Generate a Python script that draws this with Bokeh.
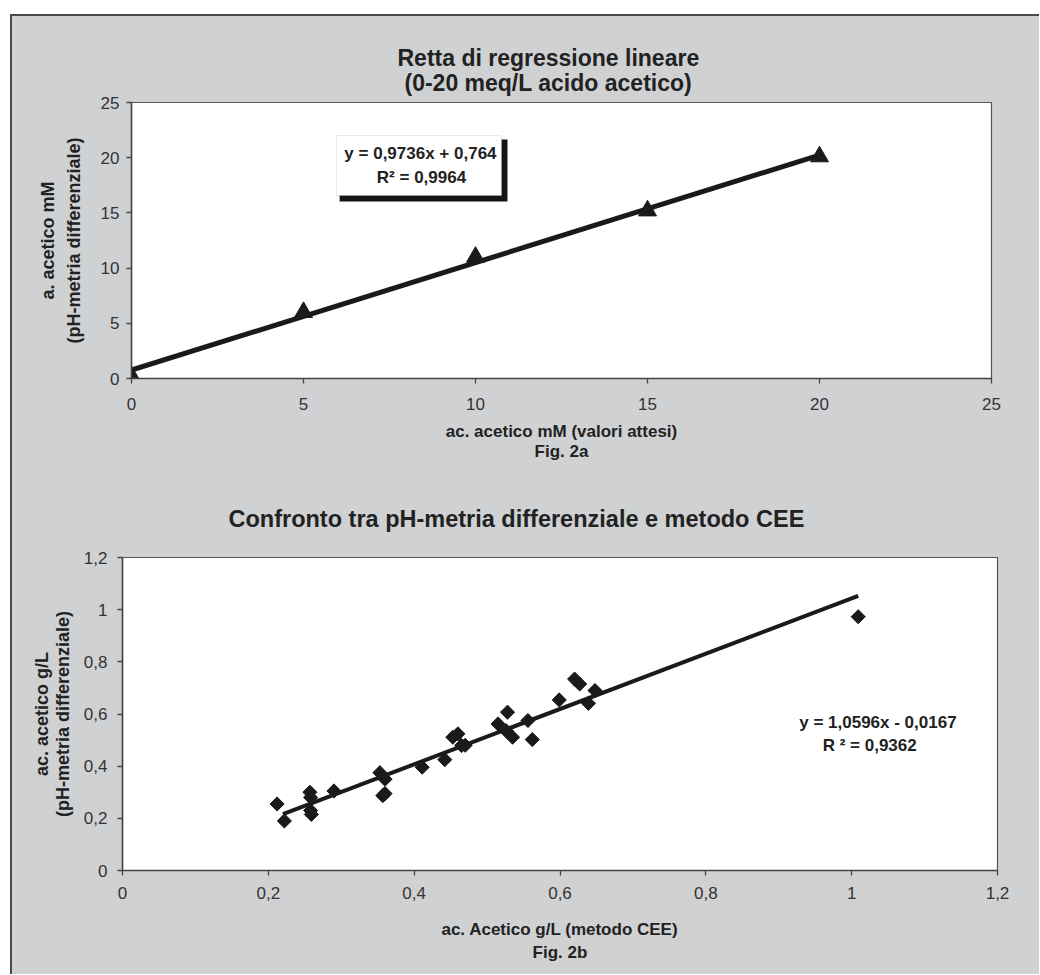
import numpy as np
from bokeh.plotting import figure
from bokeh.layouts import column
from bokeh.models import Range1d, FixedTicker, CustomJSTickFormatter, Label, BoxAnnotation, Title
from bokeh.embed import file_html
from bokeh.resources import INLINE

# ---------------- data: Fig. 2a ----------------
a_x = [0, 5, 10, 15, 20]
a_y = [0.2, 6.0, 11.0, 15.2, 20.1]
a_slope = 0.9736
a_intercept = 0.764
a_ticks = [0, 5, 10, 15, 20, 25]
a_title = ["Retta di regressione lineare", "(0-20 meq/L acido acetico)"]
a_xlabel = ["ac. acetico mM (valori attesi)", "Fig. 2a"]
a_ylabel = ["a. acetico mM", "(pH-metria differenziale)"]
a_eq = ["y = 0,9736x + 0,764", "R\u00b2 = 0,9964"]

# ---------------- data: Fig. 2b ----------------
b_x = [0.212, 0.222, 0.257, 0.258, 0.258, 0.259, 0.290, 0.353, 0.360, 0.357,
       0.360, 0.411, 0.442, 0.453, 0.460, 0.465, 0.470, 0.515, 0.528, 0.526,
       0.535, 0.556, 0.562, 0.599, 0.620, 0.627, 0.639, 0.648, 1.009]
b_y = [0.255, 0.190, 0.300, 0.280, 0.230, 0.215, 0.305, 0.375, 0.350, 0.287,
       0.295, 0.396, 0.425, 0.511, 0.524, 0.479, 0.480, 0.562, 0.607, 0.536,
       0.511, 0.575, 0.502, 0.654, 0.734, 0.715, 0.641, 0.690, 0.973]
b_slope = 1.0596
b_intercept = -0.0167
b_ticks = [0, 0.2, 0.4, 0.6, 0.8, 1.0, 1.2]
b_title = "Confronto tra pH-metria differenziale e metodo CEE"
b_xlabel = ["ac. Acetico g/L (metodo CEE)", "Fig. 2b"]
b_ylabel = ["ac. acetico g/L", "(pH-metria differenziale)"]
b_eq = ["y = 1,0596x - 0,0167", "R \u00b2  = 0,9362"]

GRAY = "#d0d1d3"
INK = "#1a1a1a"
TXT = "#222222"
FONT = "Liberation Sans"


def make_fig(fw, fh, left, top, right, bottom, xr, yr, ticks, xstand, ystand):
    p = figure(frame_width=fw, frame_height=fh,
               min_border_left=left, min_border_top=top,
               min_border_right=right, min_border_bottom=bottom,
               x_range=Range1d(*xr), y_range=Range1d(*yr),
               output_backend="svg", toolbar_location=None, title=None,
               background_fill_color="white", border_fill_color=GRAY,
               outline_line_color="#555555", outline_line_width=1.2)
    p.frame_align = False
    p.grid.visible = False
    fmt = CustomJSTickFormatter(code="return (Math.round(tick*10)/10).toString().replace('.', ',');")
    for ax, st in ((p.xaxis[0], xstand), (p.yaxis[0], ystand)):
        ax.ticker = FixedTicker(ticks=ticks)
        ax.formatter = fmt
        ax.axis_line_color = "#444444"
        ax.axis_line_width = 1.5
        ax.major_tick_line_color = "#444444"
        ax.major_tick_line_width = 1.3
        ax.major_tick_out = 5
        ax.major_tick_in = 0
        ax.minor_tick_out = 0
        ax.minor_tick_in = 0
        ax.major_label_text_font = FONT
        ax.major_label_text_font_size = "17px"
        ax.major_label_text_color = "#333333"
        ax.major_label_standoff = st
        ax.axis_label_text_font = FONT
        ax.axis_label_text_font_size = "17px"
        ax.axis_label_text_font_style = "bold"
        ax.axis_label_text_color = TXT
    return p


def side_text(p, side, text, size, standoff, align="center", offset=0):
    p.add_layout(Title(text=text, align=align, offset=offset, standoff=standoff,
                       text_font=FONT, text_font_size=size, text_font_style="bold",
                       text_color=TXT), side)


def lab(p, x, y, text, size):
    p.add_layout(Label(x=x, y=y, text=text, text_align="center", text_baseline="middle",
                       text_font=FONT, text_font_size=size, text_font_style="bold",
                       text_color=TXT))


# ---------------- Fig. 2a ----------------
p1 = make_fig(860, 276, 119, 86, 48, 92, (0, 25), (0, 25), a_ticks, 14, 7)
ax_line = np.array([min(a_x), max(a_x)], dtype=float)
p1.line(ax_line, a_slope * ax_line + a_intercept, line_color=INK, line_width=5)
p1.scatter(a_x, a_y, marker="triangle", size=18, fill_color=INK, line_color=INK)

p1.add_layout(BoxAnnotation(left=6.05, right=10.93, top=21.65, bottom=16.03,
                            fill_color="#151515", fill_alpha=1.0, line_color=None))
p1.add_layout(BoxAnnotation(left=5.96, right=10.756, top=22.01, bottom=16.58,
                            fill_color="white", fill_alpha=1.0,
                            line_color="#b8b8b8", line_width=1))
lab(p1, 8.40, 20.38, a_eq[0], "17px")
lab(p1, 8.43, 18.21, a_eq[1], "17px")

# side texts: the one nearest to the frame is added first
side_text(p1, "above", a_title[1], "23px", 13, align="left", offset=273)
side_text(p1, "above", a_title[0], "23px", -18, align="left", offset=266)
side_text(p1, "below", a_xlabel[0], "17px", 14)
side_text(p1, "below", a_xlabel[1], "17px", -15)
side_text(p1, "left", a_ylabel[1], "18px", 28)
side_text(p1, "left", a_ylabel[0], "18px", -21)

# ---------------- Fig. 2b ----------------
p2 = make_fig(875, 313, 110, 87, 42, 104, (0, 1.2), (0, 1.2), b_ticks, 11, 10)
bx_line = np.array([min(b_x) + 0.008, max(b_x)], dtype=float)
p2.line(bx_line, b_slope * bx_line + b_intercept, line_color=INK, line_width=4)
p2.scatter(b_x, b_y, marker="square", angle=np.pi / 4, size=10,
           fill_color=INK, line_color=INK)

lab(p2, 1.036, 0.5686, b_eq[0], "17px")
lab(p2, 1.028, 0.479, b_eq[1], "17px")

p2.xaxis[0].axis_label = b_xlabel[0]
p2.xaxis[0].axis_label_standoff = 18

side_text(p2, "above", b_title, "23.5px", 51, align="left", offset=106)
side_text(p2, "below", b_xlabel[1], "17px", -2)
side_text(p2, "left", b_ylabel[1], "18px", 16)
side_text(p2, "left", b_ylabel[0], "18px", -18)

layout = column(p1, p2, spacing=0, margin=(14, 0, 0, 10),
                styles={"border-left": "2px solid #4a4a4a",
                        "border-top": "2px solid #4a4a4a",
                        "background-color": GRAY})

open("out.html", "w").write(file_html(layout, INLINE))
